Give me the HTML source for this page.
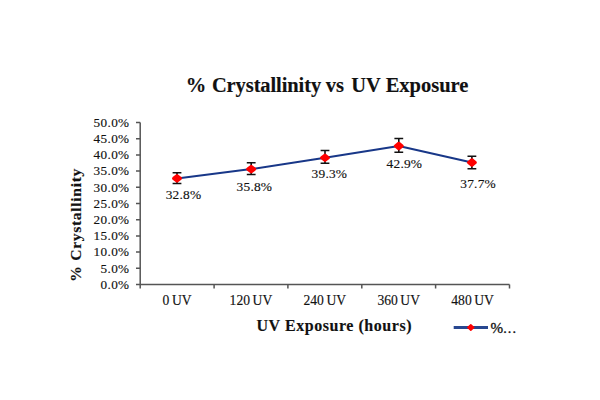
<!DOCTYPE html>
<html><head><meta charset="utf-8"><style>
html,body{margin:0;padding:0;background:#fff;width:600px;height:400px;overflow:hidden}
svg{display:block}
text{font-family:"Liberation Serif",serif;fill:#111;stroke:#111;stroke-width:0.15px}
</style></head><body>
<svg width="600" height="400" viewBox="0 0 600 400">
<rect width="600" height="400" fill="#fff"/>
<text x="185.8" y="92.3" font-size="20.5" font-weight="bold">%<tspan dx="0.6" letter-spacing="-0.1"> Crystallinity</tspan><tspan dx="-0.6"> vs</tspan><tspan dx="2.3"> UV</tspan><tspan dx="0"> Exposure</tspan></text>
<g font-size="13.2" text-anchor="end" letter-spacing="0.35">
<text x="129.45" y="126.80">50.0%</text>
<text x="129.45" y="143.00">45.0%</text>
<text x="129.45" y="159.20">40.0%</text>
<text x="129.45" y="175.40">35.0%</text>
<text x="129.45" y="191.60">30.0%</text>
<text x="129.45" y="207.80">25.0%</text>
<text x="129.45" y="224.00">20.0%</text>
<text x="129.45" y="240.20">15.0%</text>
<text x="129.45" y="256.40">10.0%</text>
<text x="129.45" y="272.60">5.0%</text>
<text x="129.45" y="288.80">0.0%</text>
</g>
<g stroke="#555" stroke-width="1.5" fill="none">
<line x1="140.2" y1="122.5" x2="140.2" y2="288.5"/>
<line x1="136" y1="284.5" x2="509.5" y2="284.5"/>
<path d="M136 268.3H140.2M136 252.1H140.2M136 235.9H140.2M136 219.7H140.2M136 203.5H140.2M136 187.3H140.2M136 171.1H140.2M136 154.9H140.2M136 138.7H140.2M136 122.5H140.2"/>
<path d="M214.1 284.5V288.5M287.9 284.5V288.5M361.8 284.5V288.5M435.6 284.5V288.5M509.5 284.5V288.5"/>
</g>
<g font-size="13.6" text-anchor="middle" letter-spacing="0" word-spacing="-0.8">
<text x="177.00" y="305">0 UV</text>
<text x="250.90" y="305">120 UV</text>
<text x="324.80" y="305">240 UV</text>
<text x="398.70" y="305">360 UV</text>
<text x="472.60" y="305">480 UV</text>
</g>
<text x="334.275" y="330.8" font-size="16.0" font-weight="bold" text-anchor="middle" letter-spacing="0.55">UV Exposure (hours)</text>
<text transform="translate(80.5,224.8) rotate(-90)" font-size="15.6" font-weight="bold" text-anchor="middle" letter-spacing="0.68">% Crystallinity</text>
<polyline points="177.0,178.4 251.2,169.1 325.0,157.75 398.8,146.0 471.9,162.5" fill="none" stroke="#183788" stroke-width="2" stroke-linejoin="round"/>
<g stroke="#111" stroke-width="1.6" fill="none"><path d="M177.0 172.75V183.5M172.6 172.75H181.4M172.6 183.5H181.4"/><path d="M251.2 162.75V174.5M246.8 162.75H255.6M246.8 174.5H255.6"/><path d="M325.0 150.5V163.25M320.6 150.5H329.4M320.6 163.25H329.4"/><path d="M398.8 138.5V152.3M394.4 138.5H403.2M394.4 152.3H403.2"/><path d="M471.9 156.2V168.8M467.5 156.2H476.3M467.5 168.8H476.3"/></g>
<g fill="#f00" stroke="#f00" stroke-width="3.3" stroke-linejoin="round"><path d="M177.0 175.8L180.3 178.4L177.0 181.0L173.7 178.4Z"/><path d="M251.2 166.5L254.5 169.1L251.2 171.7L247.9 169.1Z"/><path d="M325.0 155.2L328.3 157.75L325.0 160.3L321.7 157.75Z"/><path d="M398.8 143.4L402.1 146.0L398.8 148.6L395.5 146.0Z"/><path d="M471.9 159.9L475.2 162.5L471.9 165.1L468.6 162.5Z"/></g>
<g font-size="13.4" text-anchor="middle" letter-spacing="0.2">
<text x="183.50" y="199.2">32.8%</text>
<text x="254.40" y="191.3">35.8%</text>
<text x="329.40" y="178.2">39.3%</text>
<text x="404.40" y="168.2">42.9%</text>
<text x="478.10" y="188.3">37.7%</text>
</g>
<line x1="453.7" y1="327.5" x2="488" y2="327.5" stroke="#284790" stroke-width="3"/>
<path d="M470.8 324.8L473.8 327.5L470.8 330.2L467.8 327.5Z" fill="#f00" stroke="#f00" stroke-width="1.6" stroke-linejoin="round"/>
<text x="490.6" y="332.7" font-size="14.3" style="stroke-width:0.3px"><tspan font-size="15.2">%</tspan><tspan letter-spacing="1.0">...</tspan></text>
</svg>
</body></html>
